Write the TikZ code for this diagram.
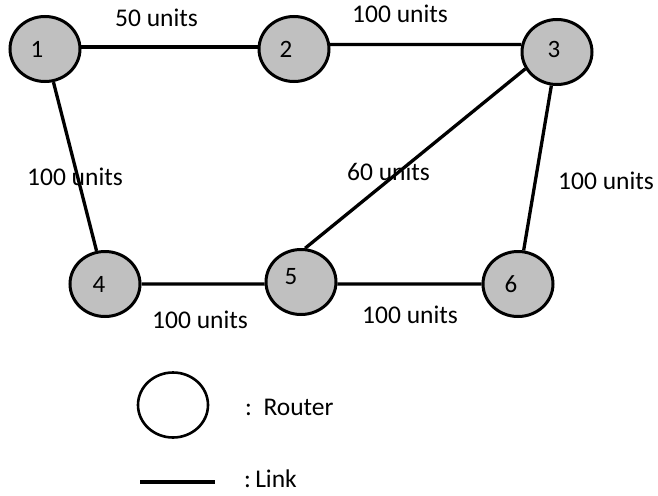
\documentclass[tikz,border=0pt]{standalone}
\usepackage{fontspec}
\setmainfont{Carlito}
\usetikzlibrary{shapes.geometric}
\definecolor{routergray}{RGB}{192,192,192}
\begin{document}
\begin{tikzpicture}[x=1pt,y=-1pt,
  router/.style={ellipse,draw=black,line width=3pt,fill=routergray,
                 minimum width=70pt,minimum height=65pt,inner sep=0pt},
  legendrouter/.style={router,fill=white,line width=2.6pt},
  link/.style={draw=black,line width=3.3pt},
  num/.style={font=\fontsize{25}{30}\selectfont,inner sep=0pt},
  cost/.style={font=\fontsize{25.5}{30}\selectfont,inner sep=0pt,anchor=base west}]
  \useasboundingbox (0,0) rectangle (658,495);

  % routers
  \node[router] (n1) at (45,49) {};
  \node[router] (n2) at (294,49) {};
  \node[router] (n3) at (557,52) {};
  \node[router] (n4) at (105,284) {};
  \node[router] (n5) at (301,282) {};
  \node[router] (n6) at (518,284) {};

  % router numbers
  \node[num] (t1) at ([shift={(-8,0)}]n1.center) {1};
  \node[num] (t2) at ([shift={(-8,0)}]n2.center) {2};
  \node[num] (t3) at ([shift={(-3,-2.5)}]n3.center) {3};
  \node[num] (t4) at ([shift={(-6,0)}]n4.center) {4};
  \node[num] (t5) at ([shift={(-10,-5)}]n5.center) {5};
  \node[num] (t6) at ([shift={(-7,0)}]n6.center) {6};

  % links
  \draw[link] (n1.3) -- (n2.177);
  \draw[link] (n2.7) -- (n3.168);
  \draw[link] (n1) -- (n4);
  \draw[link] (n3.208) -- (n5.83);
  \draw[link] (n3) -- (n6);
  \draw[link] (n4) -- (n5.183);
  \draw[link] (n5.-3) -- (n6);

  % link costs
  \node[cost] (c12) at (115,27) {50 units};
  \node[cost] (c23) at (352,23) {100 units};
  \node[cost] (c14) at (27,185) {100 units};
  \node[cost] (c35) at (347,180) {60 units};
  \node[cost] (c36) at (558,189) {100 units};
  \node[cost] (c45) at (152,328) {100 units};
  \node[cost] (c56) at (362,323) {100 units};

  % legend
  \node[legendrouter] (lr) at (173,405) {};
  \node[cost] (lrt) at (245,415) {:\ \ Router};
  \coordinate (la) at (140,482);
  \coordinate (lb) at (215,482);
  \draw[link] (la) -- (lb);
  \node[cost] (llt) at (244,487) {:\,Link};
\end{tikzpicture}
\end{document}
